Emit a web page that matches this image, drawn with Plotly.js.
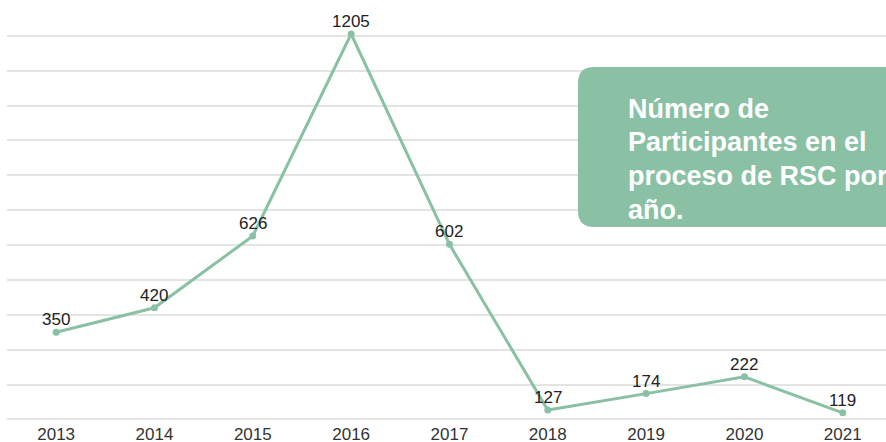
<!DOCTYPE html>
<html>
<head>
<meta charset="utf-8">
<script src="https://cdn.plot.ly/plotly-3.0.1.min.js"></script>
<style>
  html, body { margin: 0; padding: 0; background: #fff; overflow: hidden; }
  #chart { width: 886px; height: 442px; }
</style>
</head>
<body>
<div id="chart"></div>
<script>
// participantes por año
var years = ['2013', '2014', '2015', '2016', '2017', '2018', '2019', '2020', '2021'];
var participants = [350, 420, 626, 1205, 602, 127, 174, 222, 119];
var boxLines = ['Número de', 'Participantes en el', 'proceso de RSC por', 'año.'];

var W = 886, H = 442;
var marg = { l: 7, r: 0, t: 0, b: 20 };
var green = '#8ac1a4';
var font = 'Liberation Sans, Arial, sans-serif';

// pixel -> paper helpers for the green box
function px(x) { return (x - marg.l) / (W - marg.l - marg.r); }
function py(y) { return (H - marg.b - y) / (H - marg.t - marg.b); }

function roundedBox(x0, y0, x1, y1, r) {
    var p = 'M ' + px(x0 + r) + ' ' + py(y0);
    p += ' L ' + px(x1 - r) + ' ' + py(y0);
    p += ' Q ' + px(x1) + ' ' + py(y0) + ' ' + px(x1) + ' ' + py(y0 + r);
    p += ' L ' + px(x1) + ' ' + py(y1 - r);
    p += ' Q ' + px(x1) + ' ' + py(y1) + ' ' + px(x1 - r) + ' ' + py(y1);
    p += ' L ' + px(x0 + r) + ' ' + py(y1);
    p += ' Q ' + px(x0) + ' ' + py(y1) + ' ' + px(x0) + ' ' + py(y1 - r);
    p += ' L ' + px(x0) + ' ' + py(y0 + r);
    p += ' Q ' + px(x0) + ' ' + py(y0) + ' ' + px(x0 + r) + ' ' + py(y0) + ' Z';
    return p;
}

var trace = {
    x: years,
    y: participants,
    type: 'scatter',
    mode: 'lines+markers',
    line: { color: green, width: 3 },
    marker: { color: green, size: 7 },
    cliponaxis: false,
    hoverinfo: 'skip'
};

// value labels just above each point (category axis -> index position)
var annots = years.map(function (yr, i) {
    return {
        x: i,
        y: participants[i],
        xref: 'x',
        yref: 'y',
        text: String(participants[i]),
        showarrow: false,
        xanchor: 'center',
        yanchor: 'bottom',
        yshift: 1,
        font: { family: font, size: 17, color: '#222' }
    };
});

// box title, one line each
boxLines.forEach(function (s, i) {
    annots.push({
        xref: 'paper',
        yref: 'paper',
        x: px(626),
        y: py(120 + i * 33.5),
        xanchor: 'left',
        yanchor: 'bottom',
        yshift: -6,
        align: 'left',
        showarrow: false,
        text: '<b>' + s + '</b>',
        font: { family: font, size: 27, color: '#fff' }
    });
});

var layout = {
    width: W,
    height: H,
    margin: marg,
    paper_bgcolor: '#fff',
    plot_bgcolor: '#fff',
    showlegend: false,
    xaxis: {
        type: 'category',
        range: [-0.5, 8.44],
        showgrid: false,
        zeroline: false,
        showline: false,
        ticks: '',
        tickfont: { family: font, size: 17, color: '#333' }
    },
    yaxis: {
        range: [92.6, 1302.5],
        tick0: 100,
        dtick: 100,
        showticklabels: false,
        showgrid: true,
        gridcolor: '#e4e4e4',
        gridwidth: 2,
        zeroline: false,
        showline: false
    },
    shapes: [{
        type: 'path',
        xref: 'paper',
        yref: 'paper',
        path: roundedBox(578, 67, 920, 227, 16),
        fillcolor: green,
        line: { width: 0 },
        layer: 'above'
    }],
    annotations: annots
};

Plotly.newPlot('chart', [trace], layout, { displayModeBar: false, staticPlot: true });
</script>
</body>
</html>
